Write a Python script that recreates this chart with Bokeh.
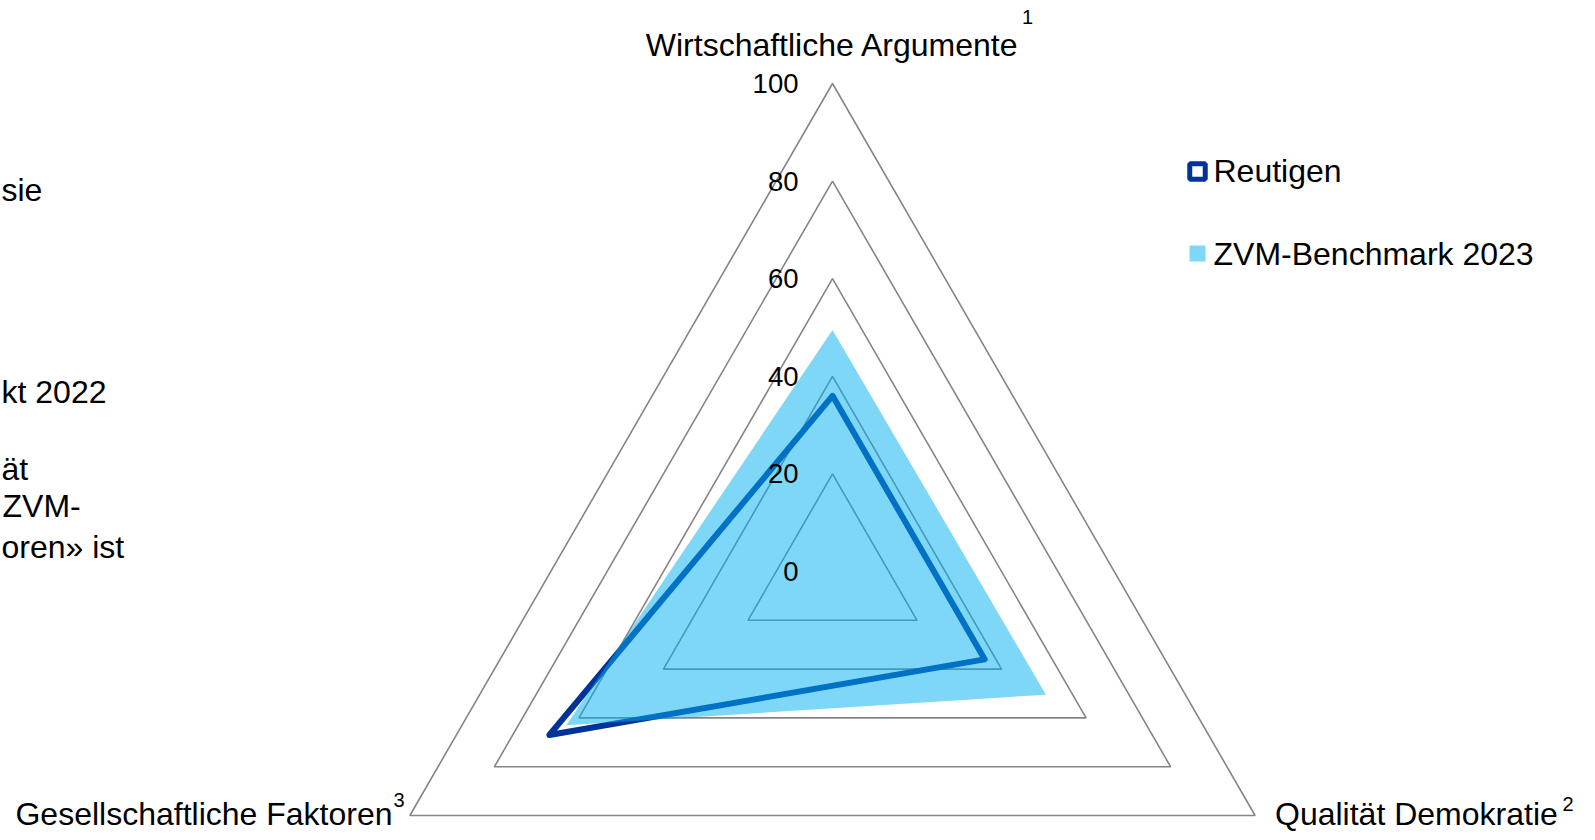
import numpy as np
from bokeh.plotting import figure
from bokeh.models import Range1d
from bokeh.embed import file_html
from bokeh.resources import INLINE
from bokeh.core.properties import value

# ---------------- data ----------------
categories = ["Wirtschaftliche Argumente", "Qualität Demokratie", "Gesellschaftliche Faktoren"]
category_notes = ["1", "2", "3"]
series_names = ["Reutigen", "ZVM-Benchmark 2023"]
reutigen = [36, 36, 67]
benchmark = [49.5, 50.5, 63]
tick_values = [0, 20, 40, 60, 80, 100]
tick_labels = ["0", "20", "40", "60", "80", "100"]
side_text = ["sie", "kt 2022", "ät", "ZVM-", "oren» ist"]

# ---------------- layout helpers ----------------
W, H = 1587, 832
CX, CY = 832, 571  # radar centre in picture pixels
S = 4.88           # pixels per value unit


def dx(px):
    return (px - CX) / S


def dy(py):
    return (CY - py) / S


FONT = value("Liberation Sans")
angles = np.deg2rad(90 - 120 * np.arange(len(categories)))


def polar(vals):
    v = np.asarray(vals, dtype=float)
    return list(v * np.cos(angles)), list(v * np.sin(angles))


p = figure(width=W, height=H,
           x_range=Range1d(dx(0), dx(W)),
           y_range=Range1d(dy(H), dy(0)),
           output_backend="svg", toolbar_location=None, min_border=0)
p.axis.visible = False
p.grid.visible = False
p.outline_line_color = None
p.background_fill_color = "white"

# grid triangles
gx, gy = [], []
for t in tick_values[1:]:
    xs, ys = polar([t] * len(categories))
    gx.append(xs)
    gy.append(ys)
p.patches(gx, gy, fill_color=None, line_color="#858585", line_width=1.6)

# Reutigen line (drawn under the transparent fill)
rx, ry = polar(reutigen)
p.patch(rx, ry, fill_color=None, line_color="#003399", line_width=6, line_join="round")

# Benchmark area
bx, by = polar(benchmark)
p.patch(bx, by, fill_color="#00B0F0", fill_alpha=0.5, line_color=None)

# tick labels
p.text(x=[dx(798)] * len(tick_values), y=tick_values, text=tick_labels,
       text_font=FONT, text_font_size="27.5px", text_align="right",
       text_baseline="middle", text_color="black")

# category labels
p.text(x=[dx(832)], y=[dy(44)], text=[categories[0]], text_font=FONT,
       text_font_size="32px", text_align="center", text_baseline="middle")
p.text(x=[dx(1274.5)], y=[dy(813)], text=[categories[1]], text_font=FONT,
       text_font_size="32px", text_align="left", text_baseline="middle")
p.text(x=[dx(392)], y=[dy(813)], text=[categories[2]], text_font=FONT,
       text_font_size="32px", text_align="right", text_baseline="middle")

# footnote numbers
p.text(x=[dx(1027), dx(1567.5), dx(398.5)], y=[dy(16), dy(803.5), dy(799)],
       text=category_notes, text_font=FONT, text_font_size="20px",
       text_align="center", text_baseline="middle")

# legend
p.scatter(x=[dx(1197)], y=[dy(171)], marker="square", size=15.5,
          fill_color="white", line_color="#003399", line_width=5)
p.scatter(x=[dx(1197)], y=[dy(253)], marker="square", size=16,
          fill_color="#00B0F0", fill_alpha=0.5, line_color=None)
p.text(x=[dx(1213)] * 2, y=[dy(170), dy(253)], text=series_names, text_font=FONT,
       text_font_size="32px", text_align="left", text_baseline="middle")

# text fragments at the left edge (kept fully inside the picture)
p.text(x=[dx(1), dx(1), dx(1), dx(2), dx(1)],
       y=[dy(189), dy(391), dy(468), dy(505.5), dy(546)],
       text=side_text, text_font=FONT, text_font_size="32px",
       text_align="left", text_baseline="middle")

open("out.html", "w").write(file_html(p, INLINE))
